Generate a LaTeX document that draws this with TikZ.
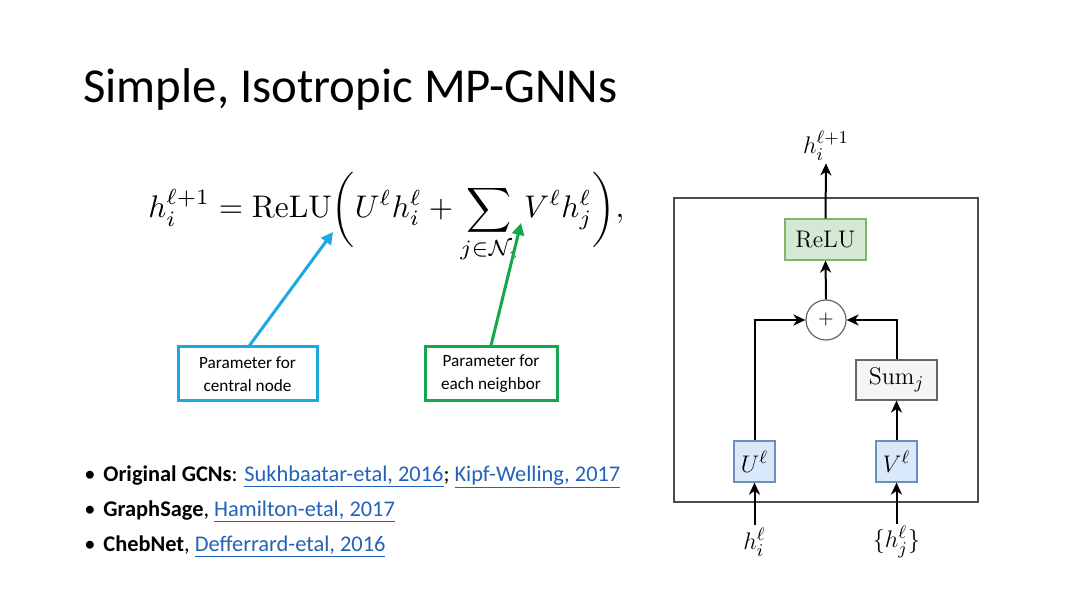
\documentclass[tikz,border=0pt]{standalone}
\usepackage[no-math]{fontspec}
\setmainfont{Carlito}
\usepackage{amsmath}
\usetikzlibrary{arrows.meta}
\definecolor{cyanc}{HTML}{1CA9E2}
\definecolor{greenc}{HTML}{14A84E}
\definecolor{linkc}{HTML}{2362B8}
\definecolor{reluf}{HTML}{D5E8D4}
\definecolor{relud}{HTML}{82B366}
\definecolor{bluef}{HTML}{DAE8FC}
\definecolor{blued}{HTML}{6C8EBF}
\definecolor{sumf}{HTML}{F5F5F5}
\definecolor{sumd}{HTML}{666666}
\newcommand{\lnk}[1]{{\color{linkc}\underline{#1}}}
\begin{document}
\begin{tikzpicture}[x=0.5pt,y=-0.5pt,
  callout/.style={draw,line width=1.5pt,fill=white,align=center,font=\fontsize{8.6}{11.5}\selectfont,
    minimum height=27pt,inner sep=0pt},
  carrow/.style={line width=1.5pt,-{Triangle[length=6pt,width=6pt]}},
  blk/.style={draw,line width=0.6pt,font=\fontsize{13}{15}\selectfont,inner sep=0pt},
  flow/.style={line width=1pt,-{Stealth[length=6pt,width=5.5pt,inset=1.8pt]}},
  mlab/.style={font=\fontsize{13}{15}\selectfont,inner sep=1pt},
  bul/.style={anchor=base west,inner sep=0pt,font=\fontsize{11.2}{13}\selectfont}]
\fill[white] (0,0) rectangle (1080,608);
\useasboundingbox (0,0) rectangle (1080,608);
% title
\node[anchor=base west,inner sep=0pt,font=\fontsize{24.4}{28}\selectfont] (title) at (83,103) {Simple, Isotropic MP-GNNs};
% formula
\node[anchor=base west,inner sep=0pt] (eq) at (148,218)
  {\resizebox{238pt}{!}{$\displaystyle h_i^{\ell+1} = \mathrm{ReLU}\bigg(U^\ell h_i^\ell + \sum_{j\in\mathcal{N}_i} V^\ell h_j^\ell\bigg),$}};
% callouts
\node[callout,draw=cyanc,minimum width=69.5pt] (cbox) at (247.5,374) {Parameter for\\central node};
\node[callout,draw=greenc,minimum width=66pt] (nbox) at (491,374) {Parameter for\\each neighbor};
\coordinate (cu) at (333,232);
\coordinate (cv) at (521,223);
\draw[carrow,cyanc] (cbox.north) ++(2,0) -- (cu);
\draw[carrow,greenc] (nbox.north) -- (cv);
% bullets
\node[bul] (b1) at (103,481) {\textbf{Original GCNs}: \lnk{Sukhbaatar-etal, 2016}; \lnk{Kipf-Welling, 2017}};
\node[bul] (b2) at (103,516) {\textbf{GraphSage}, \lnk{Hamilton-etal, 2017}};
\node[bul] (b3) at (103,551) {\textbf{ChebNet}, \lnk{Defferrard-etal, 2016}};
\foreach \b in {b1,b2,b3}
  \node[anchor=base west,inner sep=0pt,font=\fontsize{11.2}{13}\selectfont] at ([xshift=-9.5pt]\b.base west) {\textbullet};
% diagram
\node[draw=black!70,line width=0.6pt,minimum width=152pt,minimum height=152pt,inner sep=0pt] (frame) at (826,350) {};
\node[blk,fill=reluf,draw=relud,minimum width=40.5pt,minimum height=20.5pt] (relu) at (825.5,239.5) {$\mathrm{ReLU}$};
\node[draw=black!60,line width=0.6pt,circle,fill=white,minimum size=20pt,inner sep=0pt,font=\fontsize{10}{12}\selectfont] (plus) at (826,320) {$+$};
\node[blk,fill=sumf,draw=sumd,minimum width=40.5pt,minimum height=20pt] (sum) at (896.5,380) {$\mathrm{Sum}_j$};
\node[blk,fill=bluef,draw=blued,minimum width=20.5pt,minimum height=20.5pt] (U) at (754.5,461.5) {$U^\ell$};
\node[blk,fill=bluef,draw=blued,minimum width=20.5pt,minimum height=20.5pt] (V) at (896.5,461.5) {$V^\ell$};
\node[mlab] (hout) at (826,146) {$h_i^{\ell+1}$};
\node[mlab] (hi) at (754.5,542) {$h_i^\ell$};
\node[mlab] (hj) at (896.5,542) {$\{h_j^\ell\}$};
\draw[flow] (hi.north) -- (U.south);
\draw[flow] (hj.north) -- (V.south);
\draw[flow] (V.north) -- (sum.south);
\draw[flow] (U.north) |- (plus.west);
\draw[flow] (sum.north) |- (plus.east);
\draw[flow] (plus.north) -- (relu.south);
\draw[flow] (relu.north) -- (hout.south);
\end{tikzpicture}
\end{document}
